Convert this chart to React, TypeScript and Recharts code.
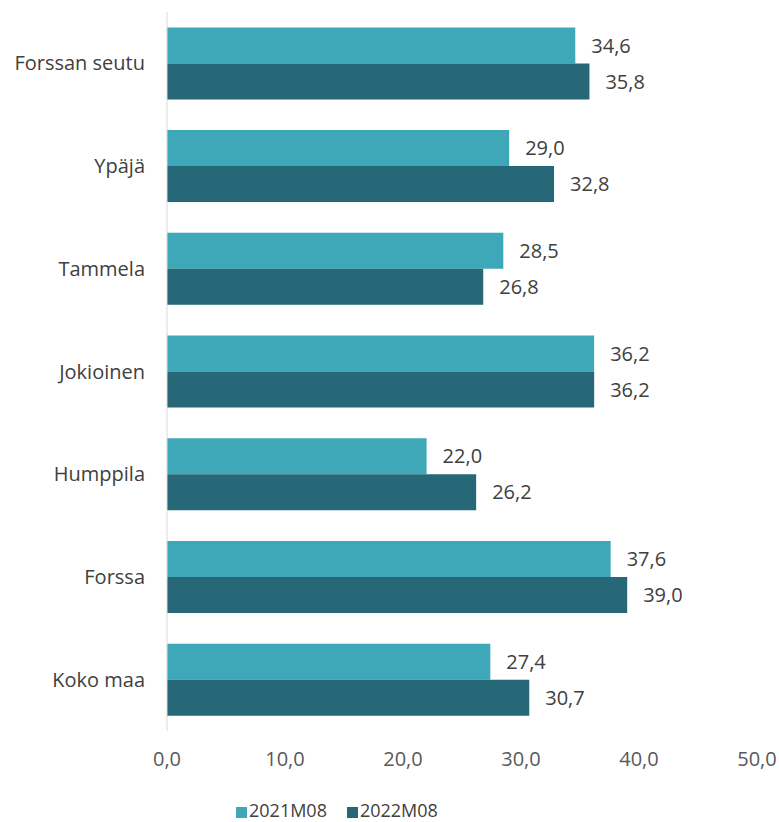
import React from "react";
import { BarChart, Bar, XAxis, YAxis, Legend, LabelList } from "recharts";

const regions = ["Forssan seutu", "Ypäjä", "Tammela", "Jokioinen", "Humppila", "Forssa", "Koko maa"];
const values2021 = [34.6, 29.0, 28.5, 36.2, 22.0, 37.6, 27.4];
const values2022 = [35.8, 32.8, 26.8, 36.2, 26.2, 39.0, 30.7];
const xTicks = [0, 10, 20, 30, 40, 50];

const data = regions.map((name, i) => ({ name, y2021: values2021[i], y2022: values2022[i] }));

const fmt = (v: number) => v.toFixed(1).replace(".", ",");

export default function App() {
  return (
    <div style={{ position: "absolute", left: 0, top: 0, width: 779, height: 822, background: "#fff", fontFamily: "'Open Sans', sans-serif" }}>
      <BarChart
        width={779}
        height={822}
        data={data}
        layout="vertical"
        margin={{ top: 12, right: 22, left: 0, bottom: 0 }}
        barCategoryGap="15%"
        barGap={0}
      >
        <XAxis
          type="number"
          domain={[0, 50]}
          ticks={xTicks}
          tickFormatter={fmt}
          axisLine={false}
          tickLine={false}
          tickMargin={15}
          height={67}
          tick={{ fill: "#595959", fontSize: 20 }}
        />
        <YAxis
          type="category"
          dataKey="name"
          width={167}
          axisLine={{ stroke: "#d9d9d9" }}
          tickLine={false}
          tickMargin={16}
          tick={{ fill: "#404040", fontSize: 20 }}
        />
        <Legend
          verticalAlign="bottom"
          align="left"
          iconType="square"
          iconSize={11}
          wrapperStyle={{ fontSize: 18, left: 236, width: 320 }}
          formatter={(v: string) => <span style={{ color: "#404040", marginLeft: -2, marginRight: 10 }}>{v}</span>}
        />
        <Bar dataKey="y2021" name="2021M08" fill="#3ea8b8" isAnimationActive={false}>
          <LabelList dataKey="y2021" position="right" offset={16} formatter={fmt} fill="#404040" fontSize={20} />
        </Bar>
        <Bar dataKey="y2022" name="2022M08" fill="#266878" isAnimationActive={false}>
          <LabelList dataKey="y2022" position="right" offset={16} formatter={fmt} fill="#404040" fontSize={20} />
        </Bar>
      </BarChart>
    </div>
  );
}
